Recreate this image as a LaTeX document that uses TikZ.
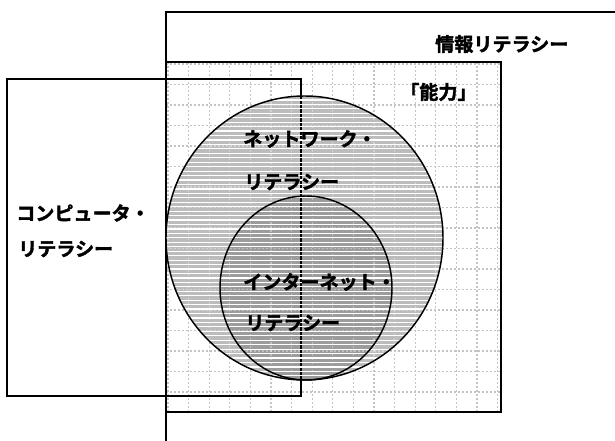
\documentclass[tikz,border=0pt]{standalone}
\usepackage{fontspec}
\newfontfamily\jp{Noto Sans CJK JP Bold}[FakeBold=2]
\definecolor{biggray}{HTML}{BCBCBC}
\definecolor{smallgray}{HTML}{9C9C9C}
\definecolor{gridgray}{HTML}{C4C4C4}
\begin{document}
\begin{tikzpicture}[x=0.75pt,y=-0.75pt,
  frame/.style={draw=black, line width=1.2pt},
  gridline/.style={draw=gridgray, line width=1pt, dash pattern=on 1.4pt off 1.6pt},
  stripe/.style={draw=white, line width=0.9pt},
  outline/.style={draw=black, line width=1.1pt},
  lbl/.style={font=\jp\fontsize{14.3pt}{14.3pt}\selectfont, inner sep=0pt, anchor=west}]
\useasboundingbox (0,0) rectangle (615,441);
\clip (0,0) rectangle (615,441);
% outer rectangle (information literacy), partly off the page
\draw[frame] (166,12) rectangle (640,470);
% ability rectangle with dotted grid
\begin{scope}
  \clip (166,62) rectangle (501,412);
  \foreach \i in {0,...,16} {
    \draw[gridline] ({168+20.6*\i},62) -- ({168+20.6*\i},412);
    \draw[gridline] (166,{64+20.5*\i}) -- (501,{64+20.5*\i});
  }
\end{scope}
\draw[frame] (166,62) rectangle (501,412);
% computer literacy rectangle
\draw[frame] (7,79) rectangle (301,396);
% circles
\fill[biggray] (304.5,238) ellipse [x radius=138.5, y radius=142];
\fill[smallgray] (306,288) ellipse [x radius=86, y radius=92];
\draw[frame] (301,90) -- (301,396);
\begin{scope}
  \clip (304.5,238) ellipse [x radius=138.5, y radius=142];
  \foreach \i in {0,...,66}
    \draw[stripe] (160,{95.5+4.45*\i}) -- (450,{95.5+4.45*\i});
  \foreach \i in {0,...,16} {
    \draw[gridline, draw=white, opacity=0.35] ({168+20.6*\i},62) -- ({168+20.6*\i},412);
    \draw[gridline, draw=white, opacity=0.35] (166,{64+20.5*\i}) -- (501,{64+20.5*\i});
  }
\end{scope}
\draw[outline] (304.5,238) ellipse [x radius=138.5, y radius=142];
\draw[outline] (306,288) ellipse [x radius=86, y radius=92];
% labels
\node[lbl] (info) at (435,44) {情報リテラシー};
\node[lbl] (ability) at (400,92) {「能力」};
\node[lbl] (net1) at (243,139) {ネットワーク・};
\node[lbl] (net2) at (244,182) {リテラシー};
\node[lbl] (comp1) at (16,213) {コンピュータ・};
\node[lbl] (comp2) at (18,249) {リテラシー};
\node[lbl] (int1) at (243,282) {インターネット・};
\node[lbl] (int2) at (245,323) {リテラシー};
\end{tikzpicture}
\end{document}
